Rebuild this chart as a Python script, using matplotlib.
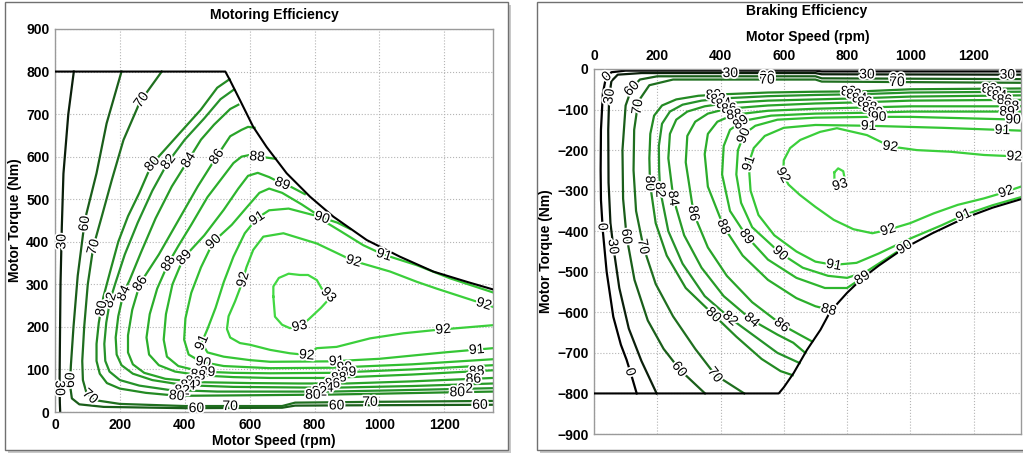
import matplotlib
matplotlib.use("Agg")
import matplotlib.pyplot as plt
import numpy as np
from matplotlib import patheffects as pe
from matplotlib.patches import Rectangle

plt.rcParams['font.family'] = ['Liberation Sans', 'DejaVu Sans']

# ---------------- data: Motoring map (speed rpm, torque Nm) ----------------
SPEED_TICKS = [0, 200, 400, 600, 800, 1000, 1200]
MOT_TORQUE_TICKS = [0, 100, 200, 300, 400, 500, 600, 700, 800, 900]
BRK_TORQUE_TICKS = [0, -100, -200, -300, -400, -500, -600, -700, -800, -900]
LEVELS = [0, 30, 60, 70, 80, 82, 84, 86, 88, 89, 90, 91, 92, 93]
LEVEL_COLORS = ['#000000', '#0b1f0b', '#1a5e1a', '#1f6f1f', '#238a23', '#25922a', '#279b27',
                '#29a429', '#2bae2b', '#2eb62e', '#31be31', '#35c635', '#3bcf3b', '#42d842']

MOT_ENVELOPE = [(0, 800), (525, 800), (539, 780), (570, 733), (611, 670), (652, 623), (714, 561),
                (786, 506), (858, 459), (961, 404), (1063, 365), (1166, 330), (1269, 306), (1350, 288)]
MOT_30 = [(58, 800), (41, 700), (26, 560), (21, 435), (17, 300), (15, 150), (14, 60), (15, 20), (16, 0)]
MOT_60 = [(205, 800), (159, 678), (128, 561), (92, 451), (70, 320), (57, 200), (49, 110), (46, 65), (52, 32),
          (75, 18), (150, 12), (400, 9), (700, 10), (740, 15), (1000, 16), (1350, 17)]
MOT_70 = [(329, 800), (262, 729), (211, 639), (175, 545), (144, 459), (118, 388), (101, 300), (90, 200), (84, 120),
          (86, 75), (97, 45), (122, 28), (200, 19), (400, 14), (700, 14), (740, 22), (1000, 24), (1350, 26)]
MOT_80 = [(538, 782), (500, 762), (449, 710), (384, 655), (298, 582), (260, 515), (225, 460), (195, 400), (170, 330),
          (149, 270), (135, 210), (128, 160), (128, 120), (138, 90), (160, 68), (200, 55), (280, 45), (380, 38),
          (550, 39), (700, 40), (850, 41), (1000, 43), (1200, 46), (1350, 48)]
MOT_82 = [(552, 758), (510, 735), (460, 690), (400, 640), (349, 588), (300, 520), (255, 445), (215, 370), (185, 300),
          (170, 263), (158, 210), (152, 160), (155, 120), (168, 95), (200, 75), (260, 62), (350, 52), (500, 48),
          (700, 48), (850, 48), (1050, 51), (1350, 56)]
MOT_84 = [(565, 722), (540, 712), (490, 675), (450, 640), (411, 592), (360, 530), (310, 455), (265, 375), (230, 310),
          (211, 279), (195, 225), (187, 175), (190, 135), (205, 110), (240, 90), (300, 75), (400, 63), (550, 59),
          (700, 58), (850, 57), (1100, 61), (1350, 67)]
MOT_86 = [(615, 668), (595, 670), (575, 663), (540, 648), (498, 600), (440, 530), (380, 450), (320, 370), (262, 302),
          (238, 240), (225, 180), (225, 140), (240, 112), (275, 92), (340, 78), (450, 70), (600, 68), (750, 67),
          (900, 67), (1100, 72), (1350, 80)]
MOT_88 = [(680, 595), (650, 598), (622, 600), (600, 604), (575, 600), (550, 585), (520, 555), (470, 505), (420, 440),
          (380, 390), (349, 349), (315, 290), (292, 230), (282, 175), (290, 135), (320, 110), (370, 95), (450, 86),
          (550, 82), (663, 80), (850, 80), (1100, 88), (1350, 98)]
MOT_89 = [(770, 512), (730, 528), (699, 537), (660, 552), (625, 562), (595, 555), (565, 525), (520, 475), (460, 415),
          (396, 362), (362, 300), (342, 230), (335, 170), (345, 130), (380, 108), (450, 95), (550, 92), (663, 91),
          (850, 92), (1100, 100), (1350, 110)]
MOT_90 = [(910, 430), (870, 445), (822, 457), (760, 488), (700, 515), (660, 525), (630, 515), (590, 480), (545, 440),
          (488, 400), (450, 340), (420, 280), (402, 220), (398, 170), (412, 135), (450, 118), (520, 108), (663, 103),
          (850, 104), (1100, 112), (1350, 124)]
MOT_91 = [(1350, 281), (1218, 314), (1115, 345), (1012, 370), (950, 392), (880, 425), (800, 462), (720, 478),
          (660, 474), (622, 455), (585, 420), (550, 365), (520, 305), (495, 245), (470, 195), (452, 163), (470, 140),
          (520, 130), (600, 122), (663, 118), (850, 119), (1000, 125), (1200, 140), (1350, 150)]
MOT_92 = [(1350, 247), (1269, 267), (1176, 290), (1115, 306), (1033, 330), (920, 355), (807, 396), (704, 420),
          (642, 412), (611, 381), (590, 340), (575, 300), (555, 260), (535, 225), (530, 195), (540, 175), (570, 162),
          (601, 158), (663, 146), (724, 138), (776, 134), (807, 150), (868, 153), (971, 173), (1074, 185),
          (1177, 193), (1350, 204)]
MOT_93 = [(673, 271), (678, 224), (700, 205), (724, 197), (760, 203), (785, 220), (820, 245), (850, 270), (835, 282),
          (822, 290), (807, 310), (780, 322), (755, 322), (720, 325), (690, 315), (673, 295), (673, 271)]
MOT_LABELS = [
    (30, 31, 400), (60, 87, 443), (70, 118, 388), (70, 267, 733), (80, 298, 584), (82, 349, 588), (84, 411, 592),
    (86, 498, 600), (88, 622, 592), (89, 699, 533), (90, 822, 455), (91, 1012, 365), (92, 920, 353), (91, 622, 455),
    (90, 488, 400), (89, 401, 361), (88, 349, 349), (86, 262, 302), (84, 211, 279), (82, 170, 263), (80, 139, 244),
    (92, 586, 310), (93, 848, 279), (93, 755, 197), (92, 776, 134), (92, 1197, 189), (92, 1323, 256),
    (91, 1300, 142), (88, 1300, 95), (86, 1290, 72), (82, 1265, 52), (80, 1240, 46), (60, 1310, 17), (70, 971, 24),
    (60, 868, 16), (60, 436, 9), (70, 540, 14), (70, 103, 32), (60, 41, 75), (30, 12, 56),
    (91, 447, 161), (90, 457, 118), (89, 470, 91), (88, 440, 84), (86, 425, 70), (84, 410, 60), (82, 392, 50),
    (80, 375, 38), (91, 868, 118), (90, 892, 103), (89, 905, 90), (88, 875, 80), (86, 855, 67), (84, 835, 56),
    (82, 815, 48), (80, 795, 40)]

# ---------------- data: Braking map (speed rpm, torque Nm) ----------------
BRK_ENVELOPE = [(0, -800), (584, -800), (600, -785), (631, -750), (673, -693), (716, -643), (747, -598),
                (800, -552), (848, -516), (900, -485), (980, -442), (1070, -405), (1170, -368), (1260, -342),
                (1350, -321)]
BRK_0 = [(1350, -6), (720, -6), (700, -4), (100, -4), (55, -8), (38, -20), (28, -60), (22, -150), (21, -250),
         (22, -323), (28, -400), (40, -500), (61, -611), (85, -680), (103, -717), (120, -760), (135, -800)]
BRK_30 = [(1350, -14), (720, -13), (700, -10), (150, -10), (75, -14), (55, -30), (48, -68), (45, -150), (46, -280),
          (52, -380), (61, -438), (80, -540), (110, -640), (150, -720), (198, -800)]
BRK_60 = [(1350, -25), (720, -23), (700, -18), (200, -18), (145, -26), (119, -48), (100, -90), (90, -200),
          (92, -320), (103, -413), (128, -520), (170, -620), (220, -690), (272, -742), (351, -800)]
BRK_70 = [(1350, -34), (720, -31), (700, -26), (250, -26), (175, -40), (140, -80), (127, -150), (125, -250),
          (133, -350), (156, -438), (195, -530), (250, -610), (320, -690), (383, -754), (475, -800)]
BRK_80 = [(1350, -48), (1000, -50), (850, -55), (700, -56), (550, -58), (420, -62), (330, -66), (260, -75),
          (215, -90), (190, -115), (178, -160), (175, -220), (177, -282), (195, -380), (230, -460), (290, -540),
          (378, -606), (450, -660), (530, -715), (590, -745), (628, -755)]
BRK_82 = [(1350, -56), (1000, -58), (850, -62), (700, -64), (550, -67), (420, -72), (340, -78), (280, -88),
          (240, -105), (215, -135), (205, -190), (206, -250), (209, -298), (235, -400), (280, -480), (350, -560),
          (431, -615), (510, -660), (580, -700), (650, -725)]
BRK_84 = [(1350, -65), (1000, -68), (850, -72), (700, -75), (550, -78), (420, -84), (350, -92), (295, -105),
          (260, -125), (240, -160), (235, -220), (251, -319), (285, -410), (340, -490), (410, -560), (499, -619),
          (580, -655), (630, -675), (668, -700)]
BRK_86 = [(1350, -76), (1000, -78), (850, -82), (700, -85), (550, -90), (420, -98), (360, -110), (320, -130),
          (295, -165), (290, -230), (315, -356), (360, -440), (420, -510), (500, -575), (594, -631), (650, -655),
          (690, -672)]
BRK_88 = [(1350, -92), (1000, -92), (850, -95), (700, -98), (550, -103), (440, -113), (390, -130), (360, -160),
          (350, -210), (360, -290), (410, -389), (470, -460), (550, -520), (640, -565), (700, -585), (750, -595)]
BRK_89 = [(1350, -105), (1000, -105), (850, -108), (700, -110), (560, -115), (470, -128), (430, -150), (410, -190),
          (405, -260), (430, -350), (483, -413), (550, -470), (640, -515), (730, -540), (800, -540), (848, -515)]
BRK_90 = [(1350, -125), (1000, -118), (879, -118), (700, -120), (580, -125), (510, -140), (475, -160), (455, -200),
          (450, -260), (465, -330), (500, -390), (589, -454), (660, -490), (740, -510), (800, -515), (860, -500),
          (920, -470), (980, -440), (1000, -430)]
BRK_91 = [(1350, -152), (1100, -145), (868, -140), (700, -138), (600, -145), (540, -165), (505, -195), (489, -233),
          (495, -300), (520, -360), (570, -410), (640, -450), (700, -475), (758, -483), (830, -478), (900, -455),
          (1000, -418), (1100, -385), (1170, -360), (1260, -336), (1350, -316)]
BRK_92 = [(1350, -216), (1233, -212), (1127, -204), (1021, -200), (937, -191), (863, -163), (768, -146),
          (715, -155), (652, -175), (620, -195), (600, -225), (598, -261), (615, -285), (650, -310), (700, -340),
          (758, -372), (820, -395), (880, -405), (927, -397), (1000, -380), (1074, -356), (1150, -335),
          (1233, -319), (1285, -307), (1350, -290)]
BRK_93 = [(760, -255), (772, -245), (788, -252), (792, -268), (788, -283), (775, -286), (763, -283), (760, -268),
          (760, -255)]
BRK_LABELS = [
    (0, 45, -23), (30, 51, -68), (60, 119, -48), (70, 135, -93), (0, 30, -389), (30, 61, -438), (60, 103, -413),
    (70, 156, -438), (80, 177, -282), (82, 209, -298), (84, 251, -319), (86, 315, -356), (88, 410, -389),
    (89, 483, -413), (90, 589, -454), (91, 758, -483), (92, 927, -389), (91, 1170, -364), (90, 980, -438),
    (89, 848, -512), (88, 747, -578), (86, 594, -631), (84, 499, -619), (82, 431, -615), (80, 378, -606),
    (60, 267, -742), (70, 383, -754), (0, 103, -750), (92, 600, -261), (91, 489, -233), (90, 468, -163),
    (93, 778, -286), (92, 937, -191), (92, 1328, -229), (92, 1301, -298), (30, 431, -10), (60, 547, -20),
    (70, 547, -28), (30, 863, -14), (60, 958, -24), (70, 958, -32), (30, 1307, -14),
    (80, 378, -62), (82, 393, -72), (84, 410, -84), (86, 427, -98), (88, 443, -113), (89, 460, -127),
    (80, 805, -55), (82, 822, -62), (84, 840, -72), (86, 857, -82), (88, 872, -95), (89, 890, -108),
    (90, 900, -118), (91, 868, -140),
    (80, 1250, -48), (82, 1266, -56), (84, 1282, -65), (86, 1298, -76), (88, 1320, -92), (89, 1306, -105),
    (90, 1325, -125), (91, 1291, -152)]

MOT_CONTOURS = {30: MOT_30, 60: MOT_60, 70: MOT_70, 80: MOT_80, 82: MOT_82, 84: MOT_84, 86: MOT_86,
                88: MOT_88, 89: MOT_89, 90: MOT_90, 91: MOT_91, 92: MOT_92, 93: MOT_93}
BRK_CONTOURS = {0: BRK_0, 30: BRK_30, 60: BRK_60, 70: BRK_70, 80: BRK_80, 82: BRK_82, 84: BRK_84, 86: BRK_86,
                88: BRK_88, 89: BRK_89, 90: BRK_90, 91: BRK_91, 92: BRK_92, 93: BRK_93}
COLOR_OF = dict(zip(LEVELS, LEVEL_COLORS))

W, H = 1023, 454
fig = plt.figure(figsize=(W / 100, H / 100), dpi=100)
fig.patch.set_facecolor('white')

# panel frames (with a soft shadow), drawn beneath the axes
for (x0, y0, x1, y1) in [(5, 2, 508, 450), (537, 2, 1030, 450)]:
    fig.patches.append(Rectangle(((x0 + 3) / W, 1 - (y1 + 3) / H), (x1 - x0) / W, (y1 - y0) / H,
                                 transform=fig.transFigure, facecolor='#c8c8c8', edgecolor='none', zorder=-3))
    fig.patches.append(Rectangle((x0 / W, 1 - y1 / H), (x1 - x0) / W, (y1 - y0) / H,
                                 transform=fig.transFigure, facecolor='white', edgecolor='#707070',
                                 lw=1.0, zorder=-2))


def px_axes(l, t, r, b):
    ax = fig.add_axes([l / W, 1 - b / H, (r - l) / W, (b - t) / H])
    ax.set_zorder(1)
    return ax


def style(ax):
    for s in ax.spines.values():
        s.set_color('#9a9a9a')
        s.set_linewidth(1.0)
    ax.grid(True, linestyle=':', color='#b4b4b4', linewidth=0.8)
    ax.tick_params(length=0, labelsize=10, pad=4)
    for lab in ax.get_xticklabels() + ax.get_yticklabels():
        lab.set_fontweight('bold')
    ax.set_axisbelow(True)


def draw_map(ax, contours, envelope, labels):
    for lev, pts in contours.items():
        a = np.array(pts, float)
        ax.plot(a[:, 0], a[:, 1], color=COLOR_OF[lev], lw=1.6, zorder=2, solid_joinstyle='round')
    e = np.array(envelope, float)
    ax.plot(e[:, 0], e[:, 1], color='black', lw=1.5, zorder=3)
    for lev, x, y in labels:
        pts = np.array(contours[lev], float)
        disp = ax.transData.transform(pts)
        p = ax.transData.transform((x, y))
        best = None
        for i in range(len(disp) - 1):
            a0, b0 = disp[i], disp[i + 1]
            ab = b0 - a0
            t = np.clip(np.dot(p - a0, ab) / max(np.dot(ab, ab), 1e-9), 0, 1)
            q = a0 + t * ab
            d = np.linalg.norm(q - p)
            if best is None or d < best[0]:
                best = (d, ab, q)
        ang = np.degrees(np.arctan2(best[1][1], best[1][0]))
        if ang > 90:
            ang -= 180
        if ang < -90:
            ang += 180
        qx, qy = ax.transData.inverted().transform(best[2] if best[0] < 8 else p)
        ax.text(qx, qy, str(lev), rotation=ang, rotation_mode='anchor', ha='center', va='center',
                fontsize=10, color='black', zorder=5,
                path_effects=[pe.withStroke(linewidth=2.5, foreground='white')])


# ---------------- Motoring ----------------
ax1 = px_axes(55, 29, 493, 412)
ax1.set_xlim(0, 1350)
ax1.set_ylim(0, 900)
ax1.set_xticks(SPEED_TICKS)
ax1.set_yticks(MOT_TORQUE_TICKS)
style(ax1)
ax1.set_title('Motoring Efficiency', fontsize=10, fontweight='bold', pad=7)
ax1.set_xlabel('Motor Speed (rpm)', fontsize=10, fontweight='bold', labelpad=2)
ax1.set_ylabel('Motor Torque (Nm)', fontsize=10, fontweight='bold', labelpad=3)
draw_map(ax1, MOT_CONTOURS, MOT_ENVELOPE, MOT_LABELS)

# ---------------- Braking ----------------
ax2 = px_axes(594, 69, 1021, 434)
ax2.set_xlim(0, 1350)
ax2.set_ylim(-900, 0)
ax2.xaxis.tick_top()
ax2.xaxis.set_label_position('top')
ax2.set_xticks(SPEED_TICKS)
ax2.set_yticks(BRK_TORQUE_TICKS)
style(ax2)
ax2.set_xlabel('Motor Speed (rpm)', fontsize=10, fontweight='bold', labelpad=6)
ax2.set_ylabel('Motor Torque (Nm)', fontsize=10, fontweight='bold', labelpad=3)
fig.text(807 / W, 1 - 11 / H, 'Braking Efficiency', ha='center', va='center', fontsize=10, fontweight='bold')
draw_map(ax2, BRK_CONTOURS, BRK_ENVELOPE, BRK_LABELS)

fig.savefig('out.png', dpi=100)
